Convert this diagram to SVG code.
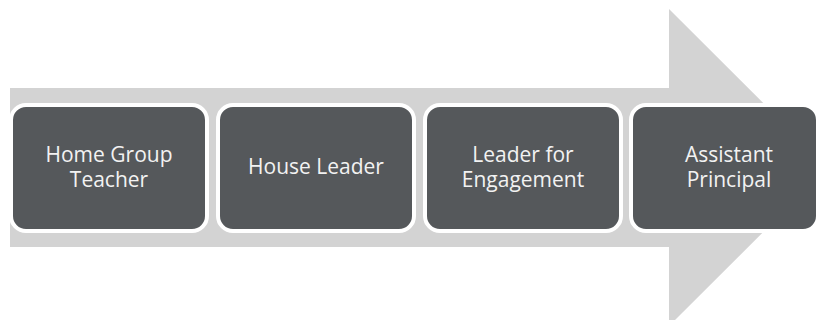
<svg xmlns="http://www.w3.org/2000/svg" width="818" height="320" viewBox="0 0 818 320">
<style>
.box{fill:#55585b;stroke:#ffffff;stroke-width:4}
.lbl{font-family:"Open Sans","Noto Sans",sans-serif;font-size:21px;fill:#f2f2f2;text-anchor:middle}
</style>
<rect width="818" height="320" fill="#ffffff"/>
<g id="connectors">
<polygon points="10,88 669,88 669,9 828,167.5 669,326 669,247 10,247" fill="#d3d3d3"/>
</g>
<g id="node1">
<rect class="box" x="11" y="105" width="196" height="126" rx="15"/>
<text class="lbl" x="109" y="162">Home Group</text>
<text class="lbl" x="109" y="187">Teacher</text>
</g>
<g id="node2">
<rect class="box" x="218" y="105" width="196" height="126" rx="15"/>
<text class="lbl" x="316" y="174">House Leader</text>
</g>
<g id="node3">
<rect class="box" x="425" y="105" width="196" height="126" rx="15"/>
<text class="lbl" x="523" y="162">Leader for</text>
<text class="lbl" x="523" y="187">Engagement</text>
</g>
<g id="node4">
<rect class="box" x="631" y="105" width="187" height="126" rx="15"/>
<text class="lbl" x="729" y="162">Assistant</text>
<text class="lbl" x="729" y="187">Principal</text>
</g>
</svg>
